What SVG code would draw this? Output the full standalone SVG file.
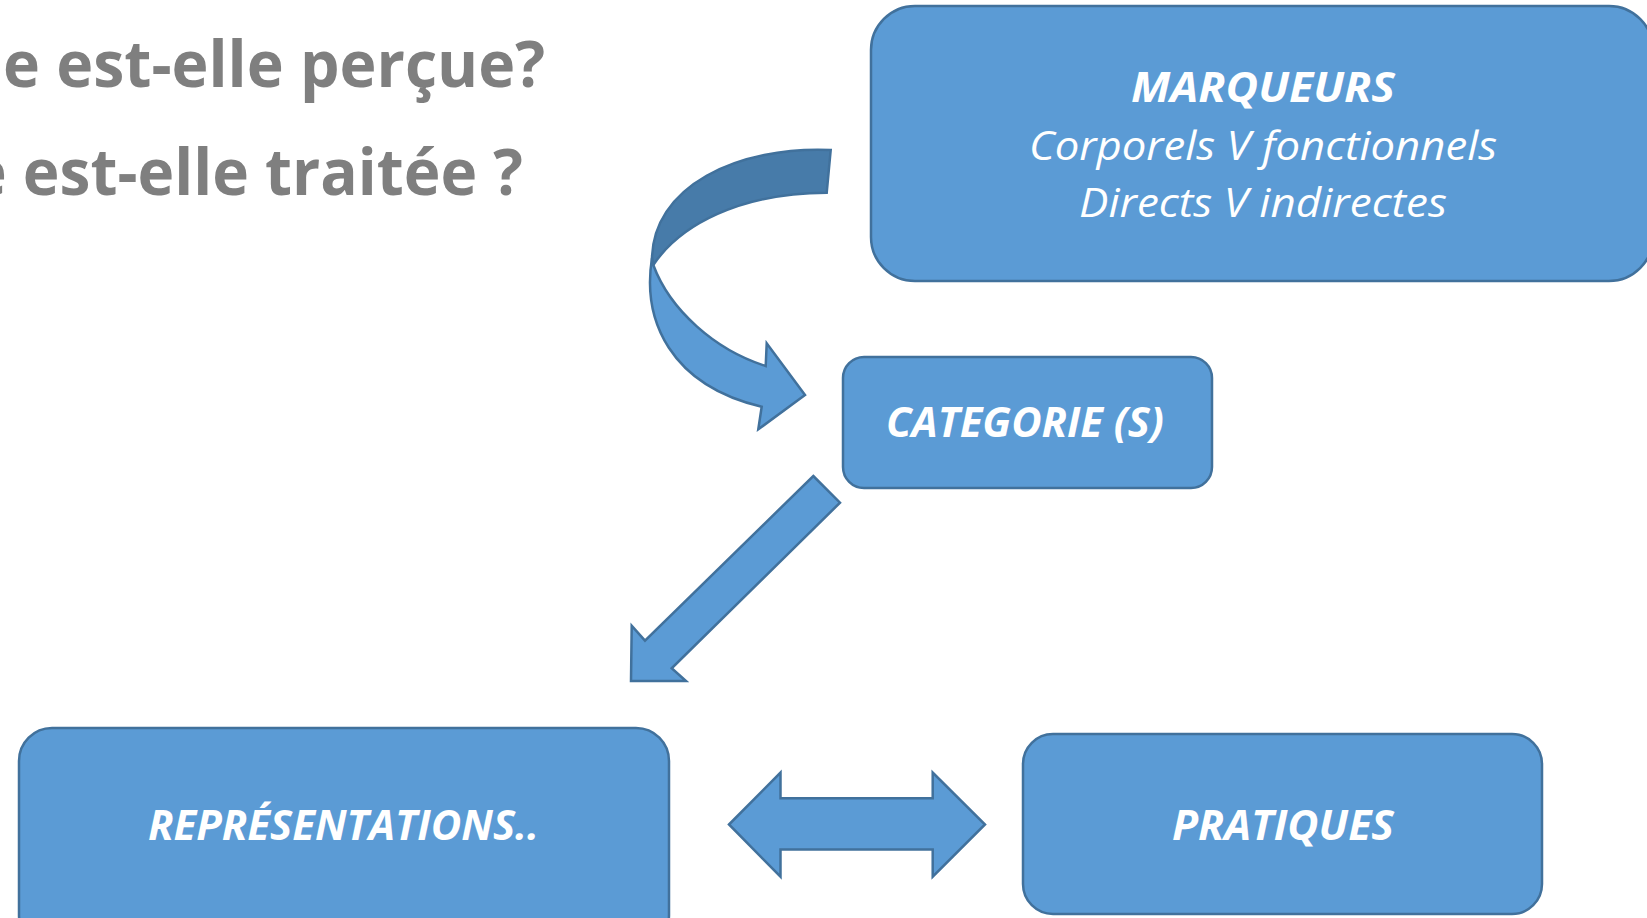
<svg xmlns="http://www.w3.org/2000/svg" width="1647" height="918" viewBox="0 0 1647 918">
<style>
.box{fill:#5B9BD5;stroke:#41719C;stroke-width:2.5}
.arr{fill:#5B9BD5;stroke:#41719C;stroke-width:2.5;stroke-linejoin:miter}
.arrd{fill:#477BA9;stroke:#41719C;stroke-width:2.5}
.t{font-family:"Open Sans","Noto Sans",sans-serif;fill:#FFFFFF;font-size:41px;font-style:italic}
.b{font-weight:bold}
.title{font-family:"Open Sans","Noto Sans",sans-serif;fill:#7F7F7F;font-size:65px;font-weight:bold}
</style>
<rect width="1647" height="918" fill="#FFFFFF"/>
<g id="title">
<text class="title" x="3" y="87" textLength="542" lengthAdjust="spacingAndGlyphs">e est-elle perçue?</text>
<text class="title" x="-30" y="195" textLength="553" lengthAdjust="spacingAndGlyphs">e est-elle traitée ?</text>
</g>
<g id="connectors">
<path class="arrd" d="M830.7,150 C740,146 650,185 652,263 L653.3,265 C680,225 740,193 826.7,192.7 Z"/>
<path class="arr" d="M652,258 C642,320 670,385 761.7,406.7 L758.3,429.3 L805,395 L766.7,343.3 L765.7,366 C715,350 670,310 653.3,265 Z"/>
<polygon class="arr" points="813.3,476 840,502.7 671.7,668.3 686,681 631,681 631.7,625.7 645,640.7"/>
<polygon class="arr" points="729,824.5 780.5,772.5 780.5,798.3 932.7,798.3 932.7,772.5 985,824.5 932.7,876.7 932.7,849.5 780.5,849.5 780.5,876.7"/>
</g>
<g id="marqueurs">
<rect class="box" x="871" y="6" width="782" height="275" rx="44" ry="44"/>
<text class="t b" x="1131" y="102" textLength="264" lengthAdjust="spacingAndGlyphs">MARQUEURS</text>
<text class="t" x="1029" y="160" textLength="468" lengthAdjust="spacingAndGlyphs">Corporels V fonctionnels</text>
<text class="t" x="1079" y="217" textLength="368" lengthAdjust="spacingAndGlyphs">Directs V indirectes</text>
</g>
<g id="categorie">
<rect class="box" x="843" y="357" width="369" height="131" rx="21" ry="21"/>
<text class="t b" x="886" y="437" textLength="278" lengthAdjust="spacingAndGlyphs">CATEGORIE (S)</text>
</g>
<g id="representations">
<rect class="box" x="19" y="728" width="650" height="220" rx="33" ry="33"/>
<text class="t b" x="148" y="840" textLength="391" lengthAdjust="spacingAndGlyphs">REPRÉSENTATIONS..</text>
</g>
<g id="pratiques">
<rect class="box" x="1023" y="734" width="519" height="180" rx="30" ry="30"/>
<text class="t b" x="1172" y="840" textLength="222" lengthAdjust="spacingAndGlyphs">PRATIQUES</text>
</g>
</svg>
